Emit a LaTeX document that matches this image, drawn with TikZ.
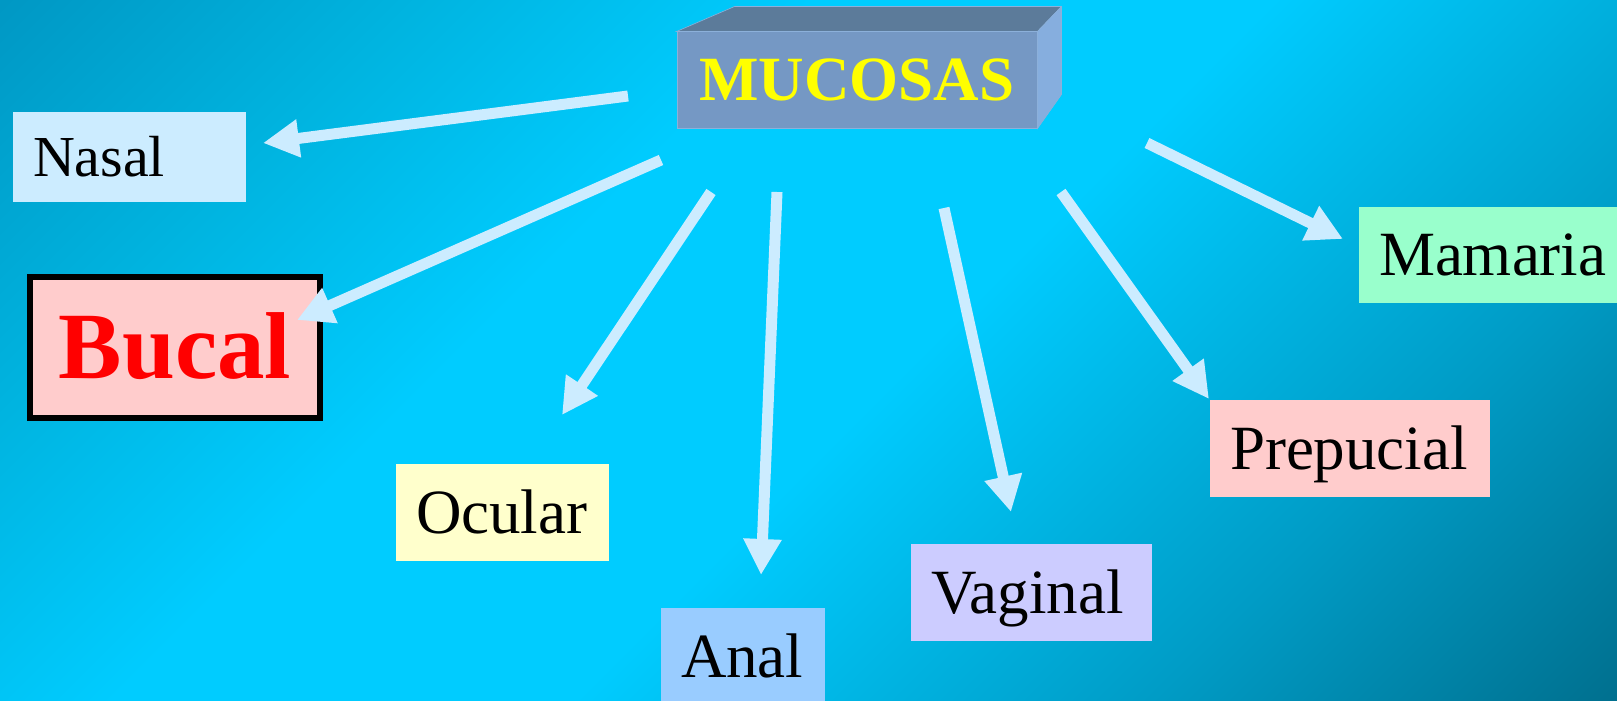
\documentclass[tikz,border=0pt]{standalone}
\usepackage{fontspec}
\setmainfont{Liberation Serif}
\usetikzlibrary{arrows.meta}
\definecolor{bgA}{HTML}{0098C4}
\definecolor{bgB}{HTML}{00B4E0}
\definecolor{bgC}{HTML}{00CCFF}
\definecolor{bgD}{HTML}{009CC6}
\definecolor{bgE}{HTML}{00708F}
\definecolor{arrowc}{HTML}{CCECFF}
\definecolor{cNasal}{HTML}{CCECFF}
\definecolor{cBucal}{HTML}{FFCCCC}
\definecolor{cOcular}{HTML}{FFFFCC}
\definecolor{cAnal}{HTML}{99CCFF}
\definecolor{cVaginal}{HTML}{CCCCFF}
\definecolor{cPrep}{HTML}{FFCCCC}
\definecolor{cMam}{HTML}{99FFCC}
\definecolor{mFront}{HTML}{7598C4}
\definecolor{mTop}{HTML}{5C7B9A}
\definecolor{mRight}{HTML}{86AEDE}
\definecolor{mEdge}{HTML}{8CB0DA}
\definecolor{mText}{HTML}{FFFF00}
\pgfdeclarehorizontalshading{bgshade}{100bp}{color(0bp)=(bgA); color(14.6bp)=(bgA); color(27.3bp)=(bgB); color(39.4bp)=(bgC); color(53.5bp)=(bgC); color(71.2bp)=(bgD); color(85.4bp)=(bgE); color(100bp)=(bgE)}
\begin{document}
\begin{tikzpicture}[x=1pt,y=-1pt,
  lbl/.style={inner xsep=20pt, inner ysep=0pt, text depth=0pt, align=left,
    font=\fontsize{63}{70}\selectfont, text height=41.7pt},
  arr/.style={draw=arrowc, line width=11pt, -{Triangle[length=36pt,width=36pt]}}]
\shade[shading=bgshade, shading angle=-45] (0,0) rectangle (1617,701);
\useasboundingbox (0,0) rectangle (1617,701);

% central box
\node[fill=mFront, draw=mEdge, line width=1pt, minimum width=360pt, minimum height=96pt, inner sep=0pt,
  font=\fontsize{63}{70}\bfseries\selectfont, text=mText, text height=41.7pt, text depth=0pt] (muc) at (857,80) {MUCOSAS};
\fill[mTop, draw=mEdge, line width=0.6pt] (muc.north west) -- ++(58,-25) -- ([shift={(24,-25)}]muc.north east) -- (muc.north east) -- cycle;
\fill[mRight, draw=mEdge, line width=0.6pt] (muc.north east) -- ++(24,-25) -- ++(0,88) -- (muc.south east) -- cycle;

% leaf boxes
\node[lbl, fill=cNasal, text width=193pt, minimum height=90pt, font=\fontsize{58}{64}\selectfont, text height=38.4pt] (nasal) at (129.5,157) {Nasal};
\node[inner sep=0pt, draw=black, line width=6pt, fill=cBucal, minimum width=290pt, minimum height=141pt,
  font=\fontsize{95}{100}\bfseries\selectfont, text=red, text height=62.9pt, text depth=0pt] (bucal) at (175,347.5) {Bucal};
\node[lbl, fill=cOcular, text width=173pt, minimum height=97pt] (ocular) at (502.5,512.5) {Ocular};
\node[lbl, fill=cAnal, text width=124pt, minimum height=97pt] (anal) at (743,656.5) {Anal};
\node[lbl, fill=cVaginal, text width=201pt, minimum height=97pt] (vaginal) at (1031.5,592.5) {Vaginal};
\node[lbl, fill=cPrep, text width=240pt, minimum height=97pt] (prep) at (1350,448.5) {Prepucial};
\node[lbl, fill=cMam, text width=230pt, minimum height=96pt] (mam) at (1494,255) {Mamaria};

% arrow end points
\coordinate (sNasal) at (628,96);   \coordinate (tNasal) at (263,143);
\coordinate (sBucal) at (661,160);  \coordinate (tBucal) at (297,320);
\coordinate (sOcular) at (711,192); \coordinate (tOcular) at (562,415);
\coordinate (sAnal) at (777,192);   \coordinate (tAnal) at (761,575);
\coordinate (sVag) at (944,208);    \coordinate (tVag) at (1011,512);
\coordinate (sPrep) at (1061,192);  \coordinate (tPrep) at (1209,399);
\coordinate (sMam) at (1147,143);   \coordinate (tMam) at (1343,239);

\draw[arr] (sNasal) -- (tNasal);
\draw[arr] (sBucal) -- (tBucal);
\draw[arr] (sOcular) -- (tOcular);
\draw[arr] (sAnal) -- (tAnal);
\draw[arr] (sVag) -- (tVag);
\draw[arr] (sPrep) -- (tPrep);
\draw[arr] (sMam) -- (tMam);
\end{tikzpicture}
\end{document}
